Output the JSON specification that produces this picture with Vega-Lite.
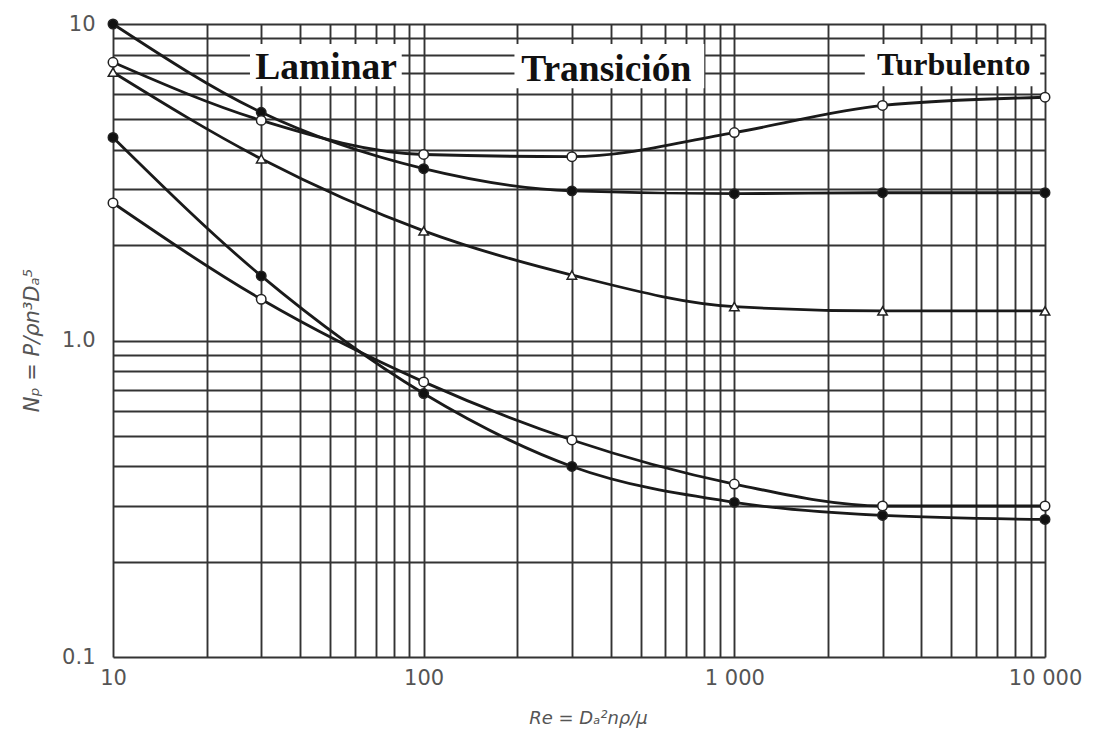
{
  "$schema": "https://vega.github.io/schema/vega-lite/v6.json",
  "width": 932,
  "height": 633,
  "autosize": "none",
  "padding": {"left": 113, "top": 24, "right": 50, "bottom": 80},
  "background": "white",
  "config": {"view": {"stroke": null}},
  "datasets": {
    "curves": [
      {"series": "A", "marker": "filled", "re": 10, "np": 10},
      {"series": "A", "marker": "filled", "re": 30, "np": 5.26},
      {"series": "A", "marker": "filled", "re": 100, "np": 3.49},
      {"series": "A", "marker": "filled", "re": 300, "np": 2.97},
      {"series": "A", "marker": "filled", "re": 1000, "np": 2.91},
      {"series": "A", "marker": "filled", "re": 3000, "np": 2.93},
      {"series": "A", "marker": "filled", "re": 10000, "np": 2.93},
      {"series": "B", "marker": "open", "re": 10, "np": 7.57},
      {"series": "B", "marker": "open", "re": 30, "np": 4.96},
      {"series": "B", "marker": "open", "re": 100, "np": 3.87},
      {"series": "B", "marker": "open", "re": 300, "np": 3.81},
      {"series": "B", "marker": "open", "re": 1000, "np": 4.54},
      {"series": "B", "marker": "open", "re": 3000, "np": 5.53},
      {"series": "B", "marker": "open", "re": 10000, "np": 5.87},
      {"series": "C", "marker": "tri", "re": 10, "np": 7.04},
      {"series": "C", "marker": "tri", "re": 30, "np": 3.75},
      {"series": "C", "marker": "tri", "re": 100, "np": 2.22},
      {"series": "C", "marker": "tri", "re": 300, "np": 1.61},
      {"series": "C", "marker": "tri", "re": 1000, "np": 1.28},
      {"series": "C", "marker": "tri", "re": 3000, "np": 1.24},
      {"series": "C", "marker": "tri", "re": 10000, "np": 1.24},
      {"series": "D", "marker": "filled", "re": 10, "np": 4.38},
      {"series": "D", "marker": "filled", "re": 30, "np": 1.6},
      {"series": "D", "marker": "filled", "re": 100, "np": 0.68},
      {"series": "D", "marker": "filled", "re": 300, "np": 0.4},
      {"series": "D", "marker": "filled", "re": 1000, "np": 0.308},
      {"series": "D", "marker": "filled", "re": 3000, "np": 0.28},
      {"series": "D", "marker": "filled", "re": 10000, "np": 0.272},
      {"series": "E", "marker": "open", "re": 10, "np": 2.72},
      {"series": "E", "marker": "open", "re": 30, "np": 1.35},
      {"series": "E", "marker": "open", "re": 100, "np": 0.74},
      {"series": "E", "marker": "open", "re": 300, "np": 0.485},
      {"series": "E", "marker": "open", "re": 1000, "np": 0.352},
      {"series": "E", "marker": "open", "re": 3000, "np": 0.3},
      {"series": "E", "marker": "open", "re": 10000, "np": 0.3}
    ],
    "boxes": [
      {"label": "Laminar", "re": 27.6, "re2": 85, "np": 8.64, "np2": 6.36},
      {"label": "Transición", "re": 196, "re2": 800, "np": 8.64, "np2": 6.27},
      {"label": "Turbulento", "re": 2630, "re2": 9650, "np": 8.64, "np2": 6.36}
    ],
    "bigLabels": [
      {"label": "Laminar", "re": 28.7, "np": 6.7},
      {"label": "Transición", "re": 206, "np": 6.6}
    ],
    "smallLabels": [
      {"label": "Turbulento", "re": 2880, "np": 6.89}
    ]
  },
  "encoding": {
    "x": {
      "field": "re", "type": "quantitative",
      "scale": {"type": "log", "domain": [10, 10000], "nice": false, "zero": false},
      "axis": {
        "values": [10,20,30,40,50,60,70,80,90,100,200,300,400,500,600,700,800,900,1000,2000,3000,4000,5000,6000,7000,8000,9000,10000],
        "labelExpr": "datum.value == 10 ? '10' : datum.value == 100 ? '100' : datum.value == 1000 ? '1 000' : datum.value == 10000 ? '10 000' : ''",
        "labelOverlap": false, "labelBound": false, "labelFlush": false,
        "grid": true, "gridColor": "#333333", "gridWidth": 1.9, "gridOpacity": 1,
        "ticks": false, "domain": false,
        "labelFont": "DejaVu Sans", "labelFontSize": 21, "labelColor": "#555555", "labelPadding": 10,
        "title": "Re = Dₐ²nρ/μ", "titleFont": "DejaVu Sans", "titleFontSize": 18, "titleFontWeight": "normal", "titleFontStyle": "italic", "titleColor": "#555555",
        "titleX": 475, "titleY": 61, "titleAlign": "center", "titleBaseline": "middle"
      }
    },
    "y": {
      "field": "np", "type": "quantitative",
      "scale": {"type": "log", "domain": [0.1, 10], "nice": false, "zero": false},
      "axis": {
        "values": [0.1,0.2,0.3,0.4,0.5,0.6,0.7,0.8,0.9,1,2,3,4,5,6,7,8,9,10],
        "labelExpr": "datum.value == 10 ? '10' : datum.value == 1 ? '1.0' : datum.value == 0.1 ? '0.1' : ''",
        "labelOverlap": false, "labelBound": false, "labelFlush": false,
        "grid": true, "gridColor": "#333333", "gridWidth": 1.9, "gridOpacity": 1,
        "ticks": false, "domain": false,
        "labelFont": "DejaVu Sans", "labelFontSize": 21, "labelColor": "#555555", "labelPadding": 18,
        "title": "Nₚ = P/ρn³Dₐ⁵", "titleFont": "DejaVu Sans", "titleFontSize": 21, "titleFontWeight": "normal", "titleFontStyle": "italic", "titleColor": "#555555",
        "titleAngle": -90, "titleX": -81, "titleY": 316, "titleAlign": "center", "titleBaseline": "middle"
      }
    }
  },
  "layer": [
    {
      "data": {"name": "curves"},
      "mark": {"type": "line", "interpolate": "monotone", "color": "#1a1a1a", "strokeWidth": 2.8},
      "encoding": {
        "detail": {"field": "series"}
      }
    },
    {
      "data": {"name": "curves"},
      "mark": {"type": "point", "filled": true, "stroke": "#222222", "strokeWidth": 1.5, "size": 90, "opacity": 1},
      "encoding": {
        "shape": {"field": "marker", "type": "nominal", "scale": {"domain": ["filled", "open", "tri"], "range": ["circle", "circle", "triangle-up"]}, "legend": null},
        "fill": {"field": "marker", "type": "nominal", "scale": {"domain": ["filled", "open", "tri"], "range": ["#111111", "#ffffff", "#ffffff"]}, "legend": null}
      }
    },
    {
      "data": {"name": "boxes"},
      "mark": {"type": "rect", "fill": "white"},
      "encoding": {
        "x2": {"field": "re2"},
        "y2": {"field": "np2"}
      }
    },
    {
      "data": {"name": "bigLabels"},
      "mark": {"type": "text", "font": "Liberation Serif", "fontWeight": "bold", "fontSize": 37.5, "color": "#111111", "align": "left", "baseline": "alphabetic"},
      "encoding": {
        "text": {"field": "label"}
      }
    },
    {
      "data": {"name": "smallLabels"},
      "mark": {"type": "text", "font": "Liberation Serif", "fontWeight": "bold", "fontSize": 32, "color": "#111111", "align": "left", "baseline": "alphabetic"},
      "encoding": {
        "text": {"field": "label"}
      }
    }
  ]
}
